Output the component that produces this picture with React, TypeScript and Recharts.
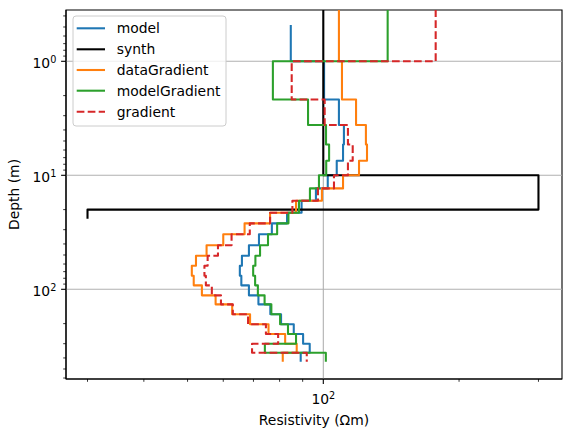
import React from 'react';
import { LineChart, Line, XAxis, YAxis, ReferenceLine, ReferenceArea, Legend, Label } from 'recharts';

// ---- data ----
const layerDepths = [1, 2.16, 3.62, 5.37, 7.45, 9.98, 13.03, 16.7, 21.3, 26.4, 32.9, 41.1, 50.7, 62.1, 76.0, 92.3, 113, 135.5, 165.7, 202.8, 246.7, 300, 359.7];
const surfaceDepth = 0.01; // above the visible range (ground surface)
const modelTopDepth = 0.48;
const bottomDepth = 431.7;

const modelValues = [84.7, 100.4, 108.3, 111.1, 110.6, 107.1, 102.3, 96.3, 89.5, 83.1, 76.9, 72.0, 68.4, 66.0, 65.3, 65.8, 68.4, 71.8, 76.3, 80.6, 86.0, 90.2, 93.3, 89.1];
const dataGradientValues = [108.3, 110.0, 118.2, 124.3, 125.0, 120.0, 110.6, 99.3, 87.0, 76.2, 66.9, 60.0, 55.1, 52.2, 51.1, 51.6, 53.8, 57.7, 62.8, 68.8, 75.6, 82.3, 87.3, 81.3];
const modelGradientValues = [138.9, 77.3, 92.5, 101.4, 103.0, 101.5, 97.8, 93.4, 88.3, 83.7, 79.0, 75.4, 72.4, 70.7, 69.9, 70.6, 71.6, 74.1, 76.7, 80.2, 83.5, 87.0, 74.2, 101.3];
const gradientValues = [177.5, 85.1, 100.7, 113.4, 116.2, 113.4, 105.6, 97.3, 85.4, 76.2, 68.7, 62.6, 58.4, 55.4, 54.5, 54.9, 56.6, 59.3, 63.0, 68.1, 74.6, 79.4, 69.5, 91.9];

const synthDepths = [10, 20];
const synthValues = [100, 300, 30];
const synthBottom = 24;

const xTicks = [30, 40, 50, 60, 70, 80, 90, 100, 200, 300];
const yTicks = [0.4, 0.5, 0.6, 0.7, 0.8, 0.9, 1, 2, 3, 4, 5, 6, 7, 8, 9, 10, 20, 30, 40, 50, 60, 70, 80, 90, 100, 200, 300, 400, 500, 600];
const xDomain = [26.88, 338.3];
const yDomain = [0.3548, 612];

const FONT = '"DejaVu Sans", sans-serif';

function steps(values: number[], depths: number[], top: number, bottom: number) {
  const pts: { x: number; y: number }[] = [];
  values.forEach((v, i) => {
    const z0 = i === 0 ? top : depths[i - 1];
    const z1 = i === values.length - 1 ? bottom : depths[i];
    pts.push({ x: v, y: z0 }, { x: v, y: z1 });
  });
  return pts;
}

const series = [
  { name: 'model', color: '#1f77b4', dash: undefined as string | undefined, data: steps(modelValues, layerDepths, modelTopDepth, bottomDepth) },
  { name: 'synth', color: '#000000', dash: undefined, data: steps(synthValues, synthDepths, surfaceDepth, synthBottom) },
  { name: 'dataGradient', color: '#ff7f0e', dash: undefined, data: steps(dataGradientValues, layerDepths, surfaceDepth, bottomDepth) },
  { name: 'modelGradient', color: '#2ca02c', dash: undefined, data: steps(modelGradientValues, layerDepths, surfaceDepth, bottomDepth) },
  { name: 'gradient', color: '#d62728', dash: '7.7 3.3', data: steps(gradientValues, layerDepths, surfaceDepth, bottomDepth) },
];

const isMajor = (v: number) => Math.abs(Math.log10(v) - Math.round(Math.log10(v))) < 1e-9;

const XTick = (props: any) => {
  const { x, y, payload } = props;
  const v = payload.value;
  const major = isMajor(v);
  return (
    <g>
      <line x1={x} x2={x} y1={y} y2={y + (major ? 4.9 : 2.8)} stroke="#000" strokeWidth={major ? 1.1 : 0.8} />
      {major && (
        <text x={x} y={y + 25.3} textAnchor="middle" fontFamily={FONT} fontSize={13.9} fill="#000">
          10<tspan dy={-5} fontSize={9.7}>{Math.round(Math.log10(v))}</tspan>
        </text>
      )}
    </g>
  );
};

const YTick = (props: any) => {
  const { x, y, payload } = props;
  const v = payload.value;
  const major = isMajor(v);
  return (
    <g>
      <line x1={x} x2={x - (major ? 4.9 : 2.8)} y1={y} y2={y} stroke="#000" strokeWidth={major ? 1.1 : 0.8} />
      {major && (
        <text x={x - 9.7} y={y + 6.4} textAnchor="end" fontFamily={FONT} fontSize={13.9} fill="#000">
          10<tspan dy={-4.9} fontSize={9.7}>{Math.round(Math.log10(v))}</tspan>
        </text>
      )}
    </g>
  );
};

const XTitle = (props: any) => {
  const vb = props.viewBox;
  return (
    <text x={vb.x + vb.width / 2} y={vb.y + 46} textAnchor="middle" fontFamily={FONT} fontSize={13.9} fill="#000">
      Resistivity (Ωm)
    </text>
  );
};

const YTitle = (props: any) => {
  const vb = props.viewBox;
  const cx = vb.x + 19.3;
  const cy = vb.y + vb.height / 2;
  return (
    <text x={cx} y={cy} transform={`rotate(-90, ${cx}, ${cy})`} textAnchor="middle" fontFamily={FONT} fontSize={13.9} fill="#000">
      Depth (m)
    </text>
  );
};

const LegendBox = () => {
  const rowY = [13.3, 34.3, 55, 75.7, 96.7];
  return (
    <svg width={156} height={113} style={{ display: 'block' }}>
      <rect x={1} y={1} width={153} height={110} rx={3} ry={3} fill="#ffffff" fillOpacity={0.8} stroke="#cccccc" strokeWidth={1} />
      {series.map((s, i) => (
        <g key={s.name}>
          <line x1={4.7} x2={33} y1={rowY[i]} y2={rowY[i]} stroke={s.color} strokeWidth={2.08} strokeDasharray={s.dash} />
          <text x={44.7} y={rowY[i] + 5} fontFamily={FONT} fontSize={13.9} fill="#000">{s.name}</text>
        </g>
      ))}
    </svg>
  );
};

export default function App() {
  return (
    <div style={{ position: 'absolute', left: 0, top: 0, background: '#fff' }}>
      <LineChart width={570} height={441} margin={{ top: 10, right: 8, bottom: 0, left: 0 }}>
        <XAxis
          type="number"
          dataKey="x"
          scale="log"
          domain={xDomain}
          allowDataOverflow
          ticks={xTicks}
          interval={0}
          tick={<XTick />}
          tickLine={false}
          tickSize={0}
          tickMargin={0}
          height={62}
          axisLine={{ stroke: '#000', strokeWidth: 1.1 }}
        >
          <Label content={XTitle} />
        </XAxis>
        <YAxis
          type="number"
          scale="log"
          domain={yDomain}
          reversed
          allowDataOverflow
          ticks={yTicks}
          interval={0}
          tick={<YTick />}
          tickLine={false}
          tickSize={0}
          tickMargin={0}
          width={66}
          axisLine={{ stroke: '#000', strokeWidth: 1.1 }}
        >
          <Label content={YTitle} />
        </YAxis>
        {[1, 10, 100].map((d) => (
          <ReferenceLine key={'h' + d} y={d} stroke="#b0b0b0" strokeWidth={1.1} />
        ))}
        <ReferenceLine x={100} stroke="#b0b0b0" strokeWidth={1.1} />
        {series.map((s) => (
          <Line
            key={s.name}
            data={s.data}
            dataKey="y"
            name={s.name}
            type="linear"
            stroke={s.color}
            strokeWidth={2.08}
            strokeDasharray={s.dash}
            strokeLinejoin="round"
            dot={false}
            activeDot={false}
            isAnimationActive={false}
          />
        ))}
        <ReferenceArea
          x1={xDomain[0]}
          x2={xDomain[1]}
          y1={yDomain[0]}
          y2={yDomain[1]}
          fill="none"
          fillOpacity={0}
          stroke="#000"
          strokeWidth={1.1}
          ifOverflow="visible"
        />
        <Legend
          layout="horizontal"
          verticalAlign="middle"
          align="center"
          content={() => <LegendBox />}
          wrapperStyle={{ position: 'absolute', left: 72, top: 15, width: 156, height: 113 }}
        />
      </LineChart>
    </div>
  );
}
